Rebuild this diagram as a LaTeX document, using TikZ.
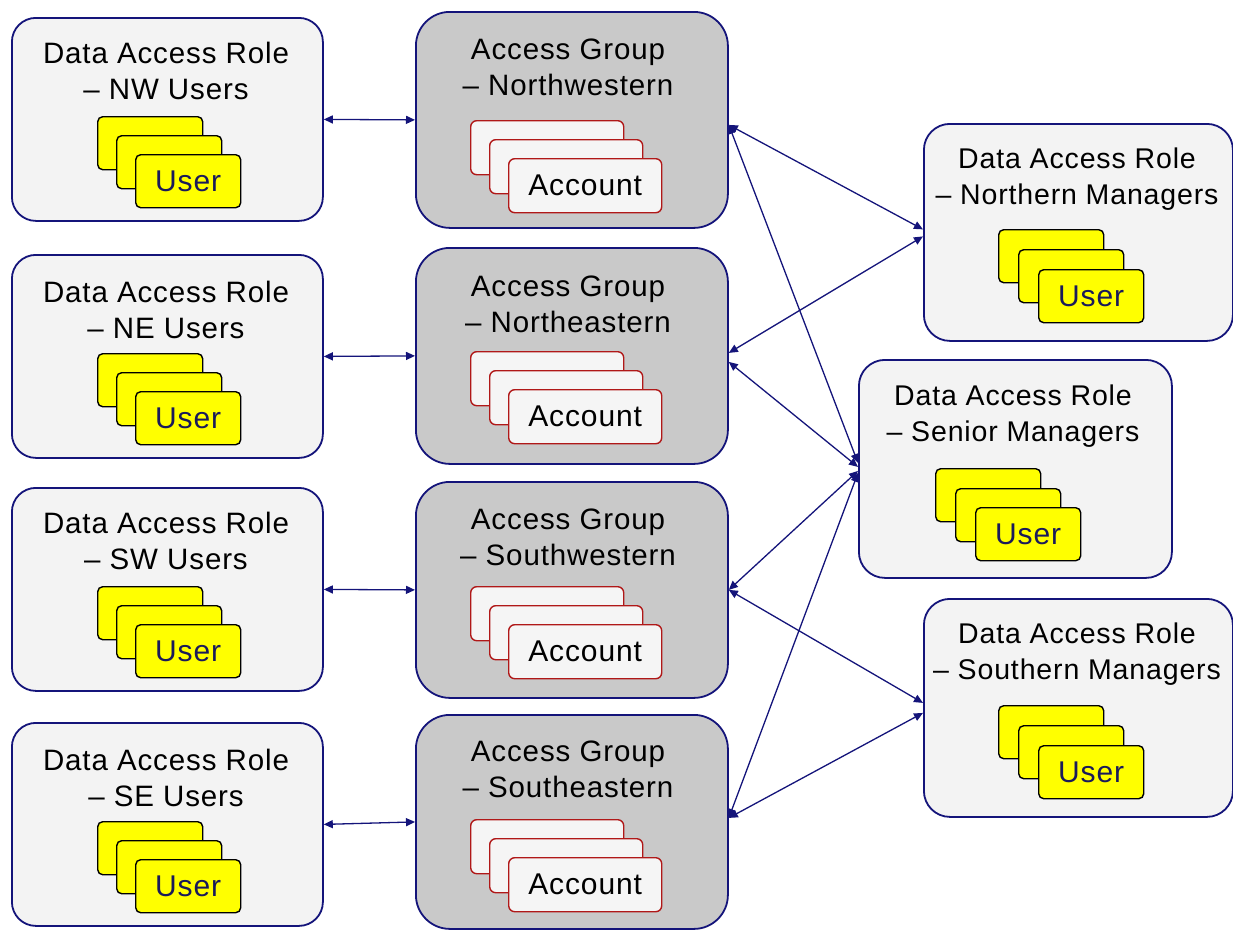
\documentclass[tikz,border=0pt]{standalone}
\usepackage{fontspec}
\setmainfont{Liberation Sans}[LetterSpace=3]
\usetikzlibrary{arrows.meta}
\definecolor{navy}{HTML}{14147A}
\definecolor{rolefill}{HTML}{F3F3F3}
\definecolor{groupfill}{HTML}{C9C9C9}
\definecolor{cardfill}{HTML}{F5F5F5}
\definecolor{cardred}{HTML}{B01818}
\definecolor{usertext}{HTML}{1A1A5A}
\definecolor{useryellow}{HTML}{FFFF00}
\tikzset{
  rolebox/.style={draw=navy, line width=1.8pt, fill=rolefill, rounded corners=24pt,
    minimum width=311pt, minimum height=203pt, anchor=north west, inner sep=0pt},
  groupbox/.style={draw=navy, line width=1.8pt, fill=groupfill, rounded corners=34pt,
    minimum width=312pt, minimum height=216pt, anchor=north west, inner sep=0pt},
  mgrbox/.style={draw=navy, line width=1.8pt, fill=rolefill, rounded corners=26pt,
    minimum height=217pt, anchor=north west, inner sep=0pt},
  boxtitle/.style={align=center, font=\fontsize{29.5}{36}\selectfont, text=black, inner sep=0pt},
  mgrtitle/.style={boxtitle, font=\fontsize{28.5}{36}\selectfont},
  usercard/.style={draw=black, line width=1.4pt, fill=useryellow, rounded corners=5pt,
    minimum width=105pt, minimum height=53pt, anchor=north west, inner sep=0pt,
    text=usertext, font=\fontsize{30}{32}\selectfont},
  acccard/.style={draw=cardred, line width=1.4pt, fill=cardfill, rounded corners=6pt,
    minimum width=153pt, minimum height=54pt, anchor=north west, inner sep=0pt,
    text=black, font=\fontsize{30}{32}\selectfont},
  link/.style={draw=navy, line width=1.3pt, {Triangle[length=9pt,width=8pt]}-{Triangle[length=9pt,width=8pt]}}
}
\begin{document}
\begin{tikzpicture}[x=1pt,y=-1pt]
\useasboundingbox (0,0) rectangle (1233,929);

% ---------- left role boxes ----------
\node[rolebox] (r1) at (11,17) {};
\node[boxtitle] (r1t) at (166,71) {Data Access Role\\– NW Users};
\node[usercard] (r1a) at (97,116) {};
\node[usercard] (r1b) at (116,135) {};
\node[usercard] (r1c) at (135,154) {User};

\node[rolebox] (r2) at (11,254) {};
\node[boxtitle] (r2t) at (166,310) {Data Access Role\\– NE Users};
\node[usercard] (r2a) at (97,353) {};
\node[usercard] (r2b) at (116,372) {};
\node[usercard] (r2c) at (135,391) {User};

\node[rolebox] (r3) at (11,487) {};
\node[boxtitle] (r3t) at (166,541) {Data Access Role\\– SW Users};
\node[usercard] (r3a) at (97,586) {};
\node[usercard] (r3b) at (116,605) {};
\node[usercard] (r3c) at (135,624) {User};

\node[rolebox] (r4) at (11,722) {};
\node[boxtitle] (r4t) at (166,778) {Data Access Role\\– SE Users};
\node[usercard] (r4a) at (97,821) {};
\node[usercard] (r4b) at (116,840) {};
\node[usercard] (r4c) at (135,859) {User};

% ---------- access groups ----------
\node[groupbox] (g1) at (415,11) {};
\node[boxtitle] (g1t) at (568,67) {Access Group\\– Northwestern};
\node[acccard] (g1a) at (470,120) {};
\node[acccard] (g1b) at (489,139) {};
\node[acccard] (g1c) at (508,158) {Account};

\node[groupbox] (g2) at (415,247) {};
\node[boxtitle] (g2t) at (568,304) {Access Group\\– Northeastern};
\node[acccard] (g2a) at (470,351) {};
\node[acccard] (g2b) at (489,370) {};
\node[acccard] (g2c) at (508,389) {Account};

\node[groupbox] (g3) at (415,481) {};
\node[boxtitle] (g3t) at (568,537) {Access Group\\– Southwestern};
\node[acccard] (g3a) at (470,586) {};
\node[acccard] (g3b) at (489,605) {};
\node[acccard] (g3c) at (508,624) {Account};

\node[groupbox, minimum height=214pt] (g4) at (415,714) {};
\node[boxtitle] (g4t) at (568,769) {Access Group\\– Southeastern};
\node[acccard] (g4a) at (470,819) {};
\node[acccard] (g4b) at (489,838) {};
\node[acccard] (g4c) at (508,857) {Account};

% ---------- manager roles ----------
\node[mgrbox, minimum width=309pt] (nm) at (923,123) {};
\node[mgrtitle] (nmt) at (1077,179) {Data Access Role\\– Northern Managers};
\node[usercard] (nma) at (998,229) {};
\node[usercard] (nmb) at (1018,249) {};
\node[usercard] (nmc) at (1038,269) {User};

\node[mgrbox, minimum width=313pt, minimum height=218pt] (sr) at (858,359) {};
\node[mgrtitle] (srt) at (1013,416) {Data Access Role\\– Senior Managers};
\node[usercard] (sra) at (935,468) {};
\node[usercard] (srb) at (955,488) {};
\node[usercard] (src) at (975,507) {User};

\node[mgrbox, minimum width=309pt, minimum height=218pt] (sm) at (923,598) {};
\node[mgrtitle] (smt) at (1077,654) {Data Access Role\\– Southern Managers};
\node[usercard] (sma) at (998,705) {};
\node[usercard] (smb) at (1018,725) {};
\node[usercard] (smc) at (1038,745) {User};

% ---------- connectors ----------
\draw[link] (r1.east) -- (g1.west);
\draw[link] (r2.east) -- (g2.west);
\draw[link] (r3.east) -- (g3.west);
\draw[link] (r4.east) -- (g4.west);

\draw[link] ([yshift=-5pt]g1.east) -- ([yshift=3pt]nm.west);
\draw[link] ([yshift=-5pt]g1.east) -- ([yshift=6pt]sr.west);
\draw[link] ([yshift=3pt]g2.east) -- ([yshift=-4pt]nm.west);
\draw[link] ([yshift=-6pt]g2.east) -- ([yshift=2pt]sr.west);
\draw[link] (g3.east) -- ([yshift=-2pt]sr.west);
\draw[link] (g3.east) -- ([yshift=5pt]sm.west);
\draw[link] ([yshift=4pt]g4.east) -- ([yshift=-4pt]sr.west);
\draw[link] ([yshift=4pt]g4.east) -- ([yshift=-5pt]sm.west);
\end{tikzpicture}
\end{document}
